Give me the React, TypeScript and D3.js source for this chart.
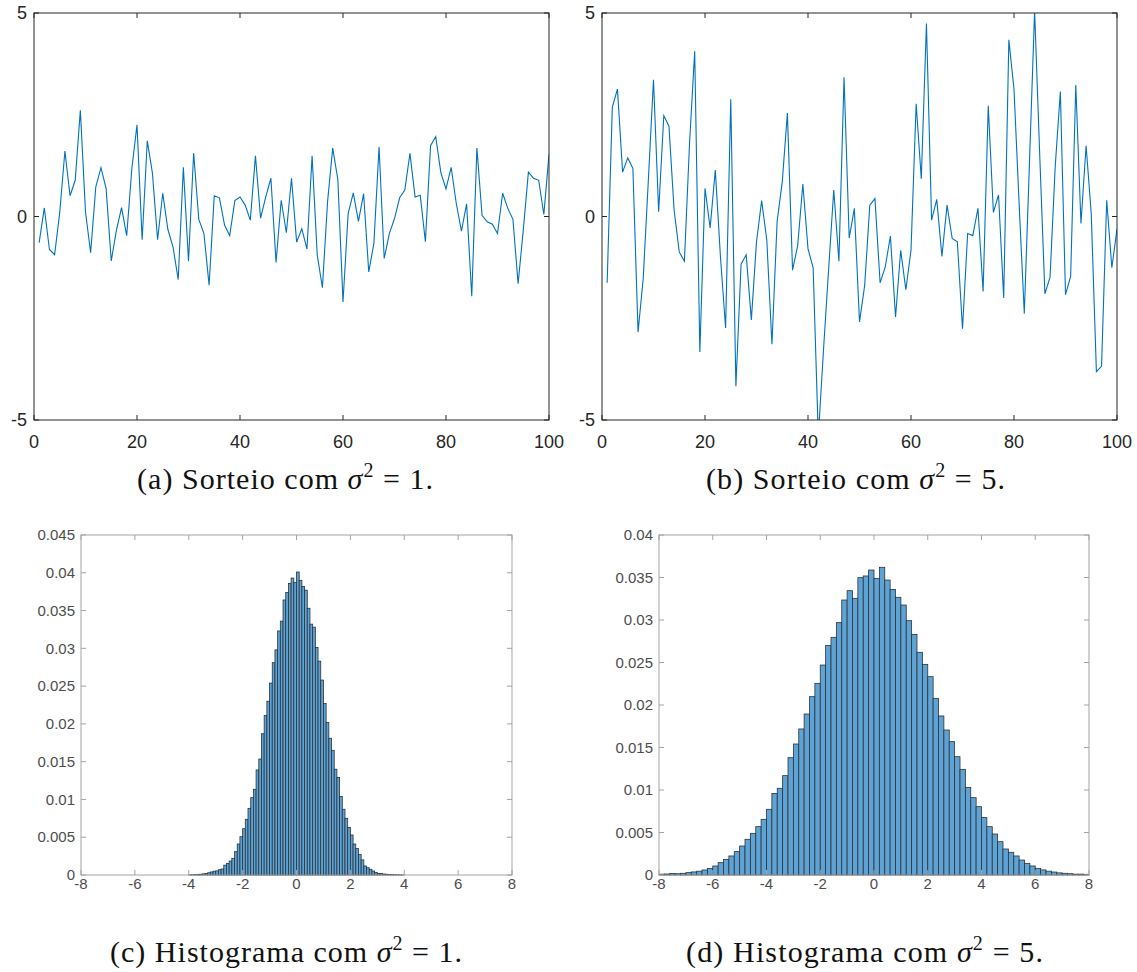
import React from "react";
import * as d3 from "d3";

// ---- data ----
const seriesA = [
  -0.64, 0.21, -0.81, -0.94, 0.1, 1.61, 0.51, 0.89, 2.61, 0.11,
  -0.89, 0.73, 1.2, 0.69, -1.09, -0.34, 0.22, -0.47, 1.18, 2.25,
  -0.57, 1.86, 1.06, -0.57, 0.57, -0.32, -0.75, -1.55, 1.21, -1.1,
  1.56, -0.07, -0.42, -1.69, 0.51, 0.46, -0.21, -0.47, 0.39, 0.48,
  0.28, -0.09, 1.49, -0.04, 0.48, 0.94, -1.13, 0.4, -0.4, 0.94,
  -0.63, -0.3, -0.8, 1.49, -0.95, -1.75, 0.36, 1.68, 0.91, -2.1,
  0.07, 0.58, -0.12, 0.56, -1.36, -0.66, 1.71, -1.03, -0.42, -0.05,
  0.46, 0.65, 1.55, 0.48, 0.52, -0.62, 1.74, 1.96, 1.08, 0.68,
  1.21, 0.32, -0.36, 0.31, -1.96, 1.68, 0.03, -0.13, -0.19, -0.42,
  0.57, 0.2, -0.07, -1.65, -0.34, 1.09, 0.94, 0.89, 0.05, 1.53,
];

const seriesB = [
  -1.63, 2.68, 3.13, 1.09, 1.44, 1.18, -2.84, -1.53, 0.89, 3.36,
  0.12, 2.48, 2.22, 0.16, -0.87, -1.1, 1.8, 4.06, -3.33, 0.69,
  -0.28, 1.14, -0.99, -2.74, 2.88, -4.17, -1.17, -0.94, -2.54, -0.62,
  0.39, -0.58, -3.14, -0.13, 0.85, 2.54, -1.32, -0.71, 0.8, -0.79,
  -1.26, -5.4, -3.3, -1.3, 0.65, -1.1, 3.42, -0.53, 0.2, -2.59,
  -1.7, 0.28, 0.44, -1.63, -1.24, -0.48, -2.47, -0.83, -1.8, -0.83,
  2.77, 0.93, 4.74, -0.09, 0.42, -0.98, 0.28, -0.54, -0.62, -2.76,
  -0.42, -0.47, 0.2, -1.84, 2.72, 0.1, 0.53, -2.0, 4.34, 3.13,
  0.3, -2.39, 1.3, 5.05, 1.5, -1.9, -1.49, 1.22, 3.07, -1.92,
  -1.47, 3.23, -0.17, 1.74, 0.07, -3.81, -3.68, 0.4, -1.26, -0.3,
];

// histogram (c): bins of width 0.1 starting at -4
const histCStart = -4;
const histCWidth = 0.1;
const histC = [
  0.00002, 0.00003, 0.00005, 0.00008, 0.0001, 0.00015, 0.0002, 0.0003, 0.0004, 0.0005,
  0.00055, 0.0007, 0.0008, 0.0013, 0.00154, 0.00185, 0.00221, 0.00309, 0.0041, 0.00507,
  0.00613, 0.00737, 0.00882, 0.01024, 0.01134, 0.0139, 0.01535, 0.0187, 0.0211, 0.023,
  0.0254, 0.0281, 0.0298, 0.0323, 0.0336, 0.0364, 0.0374, 0.0386, 0.0393, 0.0387,
  0.0401, 0.039, 0.0382, 0.0377, 0.0353, 0.0332, 0.0328, 0.0301, 0.0283, 0.0258,
  0.0227, 0.0202, 0.0181, 0.0165, 0.014, 0.0129, 0.0104, 0.0087, 0.0075, 0.0063,
  0.0053, 0.0041, 0.0035, 0.0027, 0.002, 0.0012, 0.00097, 0.00075, 0.00053, 0.00035,
  0.00022, 0.00018, 0.00013, 0.0001, 0.00008, 0.00006, 0.00004, 0.00003, 0.00002, 0.00001,
];

// histogram (d): bins of width 0.2 starting at -8
const histDStart = -8;
const histDWidth = 0.2;
const histD = [
  0.0001, 0.00012, 0.00018, 0.00015, 0.0002, 0.00028, 0.00036, 0.00045, 0.00059, 0.00078,
  0.00106, 0.00145, 0.00184, 0.00224, 0.00275, 0.00341, 0.0042, 0.0049, 0.00569, 0.00655,
  0.00773, 0.0096, 0.0102, 0.01169, 0.0138, 0.01541, 0.01718, 0.01894, 0.02098, 0.02255,
  0.0247, 0.027, 0.02796, 0.02969, 0.03235, 0.03345, 0.03255, 0.03498, 0.03518, 0.03588,
  0.0349, 0.0362, 0.0347, 0.0336, 0.03267, 0.03176, 0.02992, 0.02831, 0.0262, 0.02478,
  0.02333, 0.02078, 0.01871, 0.01706, 0.01569, 0.01392, 0.01243, 0.01031, 0.0091, 0.00804,
  0.00675, 0.00569, 0.00482, 0.00392, 0.00306, 0.00267, 0.00224, 0.00176, 0.00137, 0.00106,
  0.00078, 0.0006, 0.00045, 0.00035, 0.00025, 0.0002, 0.00015, 0.0001, 0.0001, 0.00008,
];

const lineXTicks = [0, 20, 40, 60, 80, 100];
const lineYTicks = [-5, 0, 5];
const histXTicks = [-8, -6, -4, -2, 0, 2, 4, 6, 8];
const histCYTicks = [0, 0.005, 0.01, 0.015, 0.02, 0.025, 0.03, 0.035, 0.04, 0.045];
const histDYTicks = [0, 0.005, 0.01, 0.015, 0.02, 0.025, 0.03, 0.035, 0.04];

const captions = [
  { label: "(a) Sorteio com ", v: "1" },
  { label: "(b) Sorteio com ", v: "5" },
  { label: "(c) Histograma com ", v: "1" },
  { label: "(d) Histograma com ", v: "5" },
];

type Box = { left: number; right: number; top: number; bottom: number };

const SANS = "'Liberation Sans', Arial, Helvetica, sans-serif";
const SERIF = "'Liberation Serif', 'Times New Roman', serif";

function fmtY(v: number) {
  if (v === 0) return "0";
  return String(+v.toFixed(3));
}

function LinePanel({ id, data, box }: { id: string; data: number[]; box: Box }) {
  const x = d3.scaleLinear().domain([0, 100]).range([box.left, box.right]);
  const y = d3.scaleLinear().domain([-5, 5]).range([box.bottom, box.top]);
  const line = d3
    .line<number>()
    .x((_, i) => x(i + 1))
    .y((d) => y(d));
  const axisColor = "#262626";
  const tl = 5;
  return (
    <g>
      <defs>
        <clipPath id={id}>
          <rect x={box.left} y={box.top} width={box.right - box.left} height={box.bottom - box.top} />
        </clipPath>
      </defs>
      <path d={line(data) || ""} fill="none" stroke="#0072BD" strokeWidth={1.1} clipPath={`url(#${id})`} />
      <rect
        x={box.left}
        y={box.top}
        width={box.right - box.left}
        height={box.bottom - box.top}
        fill="none"
        stroke={axisColor}
        strokeWidth={1}
      />
      {lineXTicks.map((t) => (
        <g key={"x" + t}>
          <line x1={x(t)} x2={x(t)} y1={box.bottom} y2={box.bottom - tl} stroke={axisColor} />
          <line x1={x(t)} x2={x(t)} y1={box.top} y2={box.top + tl} stroke={axisColor} />
          <text x={x(t)} y={box.bottom + 28} textAnchor="middle" fontSize={18} fontFamily={SANS} fill={axisColor}>
            {t}
          </text>
        </g>
      ))}
      {lineYTicks.map((t) => (
        <g key={"y" + t}>
          <line x1={box.left} x2={box.left + tl} y1={y(t)} y2={y(t)} stroke={axisColor} />
          <line x1={box.right} x2={box.right - tl} y1={y(t)} y2={y(t)} stroke={axisColor} />
          <text
            x={box.left - 7}
            y={y(t)}
            dy="0.35em"
            textAnchor="end"
            fontSize={18}
            fontFamily={SANS}
            fill={axisColor}
          >
            {t}
          </text>
        </g>
      ))}
    </g>
  );
}

function HistPanel({
  values,
  start,
  width,
  yMax,
  yTicks,
  box,
}: {
  values: number[];
  start: number;
  width: number;
  yMax: number;
  yTicks: number[];
  box: Box;
}) {
  const x = d3.scaleLinear().domain([-8, 8]).range([box.left, box.right]);
  const y = d3.scaleLinear().domain([0, yMax]).range([box.bottom, box.top]);
  const axisColor = "#a3a3a3";
  const textColor = "#4d4d4d";
  const tl = 5;
  return (
    <g>
      {values.map((v, i) => {
        const x0 = start + i * width;
        return (
          <rect
            key={i}
            x={x(x0)}
            y={y(v)}
            width={x(x0 + width) - x(x0)}
            height={y(0) - y(v)}
            fill="#5fa3d4"
            stroke="#27343f"
            strokeWidth={0.8}
          />
        );
      })}
      <rect
        x={box.left}
        y={box.top}
        width={box.right - box.left}
        height={box.bottom - box.top}
        fill="none"
        stroke={axisColor}
        strokeWidth={1}
      />
      {histXTicks.map((t) => (
        <g key={"x" + t}>
          <line x1={x(t)} x2={x(t)} y1={box.bottom} y2={box.bottom - tl} stroke={axisColor} />
          <line x1={x(t)} x2={x(t)} y1={box.top} y2={box.top + tl} stroke={axisColor} />
          <text x={x(t)} y={box.bottom + 14} textAnchor="middle" fontSize={15} fontFamily={SANS} fill={textColor}>
            {t}
          </text>
        </g>
      ))}
      {yTicks.map((t) => (
        <g key={"y" + t}>
          <line x1={box.left} x2={box.left + tl} y1={y(t)} y2={y(t)} stroke={axisColor} />
          <line x1={box.right} x2={box.right - tl} y1={y(t)} y2={y(t)} stroke={axisColor} />
          <text
            x={box.left - 6}
            y={y(t)}
            dy="0.35em"
            textAnchor="end"
            fontSize={15}
            fontFamily={SANS}
            fill={textColor}
          >
            {fmtY(t)}
          </text>
        </g>
      ))}
    </g>
  );
}

function Caption({ x, y, len, label, v }: { x: number; y: number; len: number; label: string; v: string }) {
  return (
    <text x={x} y={y} fontSize={30} fontFamily={SERIF} fill="#111" textLength={len} lengthAdjust="spacing">
      {label}
      <tspan fontStyle="italic">σ</tspan>
      <tspan dy={-12} fontSize={20}>
        2
      </tspan>
      <tspan dy={12}>{" = " + v + "."}</tspan>
    </text>
  );
}

export default function App() {
  return (
    <svg
      width={1137}
      height={972}
      style={{ position: "absolute", left: 0, top: 0, background: "#fff" }}
    >
      <rect x={0} y={0} width={1137} height={972} fill="#fff" />
      <LinePanel id="clipA" data={seriesA} box={{ left: 34, right: 549, top: 13, bottom: 420 }} />
      <LinePanel id="clipB" data={seriesB} box={{ left: 602, right: 1117, top: 13, bottom: 420 }} />
      <HistPanel
        values={histC}
        start={histCStart}
        width={histCWidth}
        yMax={0.045}
        yTicks={histCYTicks}
        box={{ left: 81, right: 512, top: 535, bottom: 875 }}
      />
      <HistPanel
        values={histD}
        start={histDStart}
        width={histDWidth}
        yMax={0.04}
        yTicks={histDYTicks}
        box={{ left: 659, right: 1089, top: 535, bottom: 875 }}
      />
      <Caption x={137} y={489} len={296} label={captions[0].label} v={captions[0].v} />
      <Caption x={706} y={489} len={299} label={captions[1].label} v={captions[1].v} />
      <Caption x={110} y={962} len={352} label={captions[2].label} v={captions[2].v} />
      <Caption x={686} y={962} len={357} label={captions[3].label} v={captions[3].v} />
    </svg>
  );
}
